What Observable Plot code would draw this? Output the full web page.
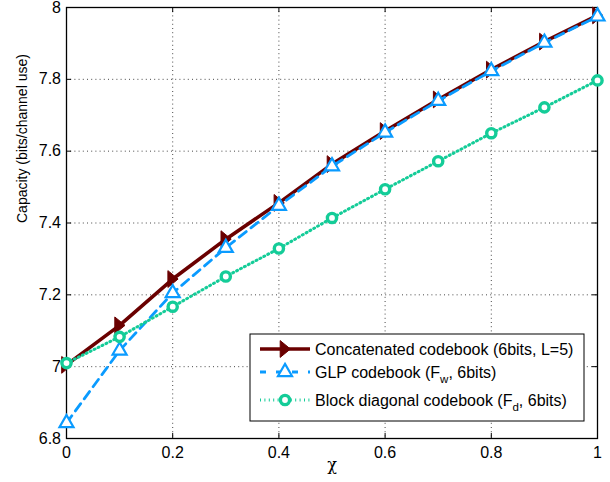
<!DOCTYPE html>
<html>
<head>
<meta charset="utf-8">
<script src="https://cdn.jsdelivr.net/npm/d3@7"></script>
<script src="https://cdn.jsdelivr.net/npm/@observablehq/plot@0.6"></script>
<style>
  html, body { margin: 0; padding: 0; background: #fff; }
  #chart svg { display: block; }
</style>
</head>
<body>
<div id="chart"></div>
<script>
// Channel capacity versus the correlation parameter chi for three codebooks
const chi = [0, 0.1, 0.2, 0.3, 0.4, 0.5, 0.6, 0.7, 0.8, 0.9, 1];
const concatenated = [7.005, 7.115, 7.244, 7.355, 7.456, 7.564, 7.656, 7.744, 7.827, 7.905, 7.978];
const glp = [6.843, 7.045, 7.205, 7.331, 7.448, 7.558, 7.652, 7.74, 7.823, 7.902, 7.975];
const blockDiagonal = [7.01, 7.083, 7.167, 7.251, 7.329, 7.414, 7.494, 7.572, 7.65, 7.722, 7.797];

const xTicks = [0, 0.2, 0.4, 0.6, 0.8, 1];
const yTicks = [6.8, 7, 7.2, 7.4, 7.6, 7.8, 8];

const seriesNames = [
  "Concatenated codebook (6bits, L=5)",
  "GLP codebook (F_w, 6bits)",
  "Block diagonal codebook (F_d, 6bits)"
];

const colors = { conc: "#6a0000", glp: "#0a9bff", block: "#14cc98" };

const rows = (ys) => chi.map((x, i) => ({ x, y: ys[i] }));
const concRows = rows(concatenated);
const glpRows = rows(glp);
const blockRows = rows(blockDiagonal);

// Right-pointing triangle marker
const triangleRight = {
  draw(context, size) {
    const r = Math.sqrt(size / Math.PI);
    context.moveTo(r * 0.9, 0);
    context.lineTo(-r * 0.8, -r * 1.4);
    context.lineTo(-r * 0.8, r * 1.4);
    context.closePath();
  }
};

const xDom = [0, 1], yDom = [6.8, 8];
const tickLenX = 0.014; // inward tick length in y units
const tickLenY = 0.0095; // inward tick length in x units
const font = "'Liberation Sans', Arial, sans-serif";

const plot = Plot.plot({
  width: 610,
  height: 482,
  marginLeft: 66,
  marginRight: 13,
  marginTop: 7,
  marginBottom: 44,
  style: { fontFamily: font, fontSize: "16px", background: "#fff", color: "#000" },
  x: { domain: xDom },
  y: { domain: yDom },
  marks: [
    // dotted grid
    Plot.ruleX(xTicks.filter(d => d > 0 && d < 1), { stroke: "#333", strokeWidth: 0.9, strokeDasharray: "1,3.2" }),
    Plot.ruleY(yTicks.filter(d => d > 6.8 && d < 8), { stroke: "#333", strokeWidth: 0.9, strokeDasharray: "1,3.2" }),
    // inward ticks on all four sides
    Plot.ruleX(xTicks, { y1: 6.8, y2: 6.8 + tickLenX, stroke: "#000" }),
    Plot.ruleX(xTicks, { y1: 8, y2: 8 - tickLenX, stroke: "#000" }),
    Plot.ruleY(yTicks, { x1: 0, x2: tickLenY, stroke: "#000" }),
    Plot.ruleY(yTicks, { x1: 1, x2: 1 - tickLenY, stroke: "#000" }),
    Plot.axisX(xTicks, { tickSize: 0, tickPadding: 8, tickFormat: d => String(d), label: null }),
    Plot.axisY(yTicks, { tickSize: 0, tickPadding: 5.5, tickFormat: d => String(d), label: null }),
    Plot.frame({ stroke: "#000", strokeWidth: 1.3 }),
    // axis titles
    Plot.text(["Capacity (bits/channel use)"], { frameAnchor: "left", dx: -44, rotate: -90, fontSize: 14 }),
    Plot.text(["χ"], { frameAnchor: "bottom", dy: 31, fontSize: 16, fontFamily: "'DejaVu Serif', serif" }),
    // series
    Plot.line(concRows, { x: "x", y: "y", stroke: colors.conc, strokeWidth: 3.6 }),
    Plot.dot(concRows, { x: "x", y: "y", symbol: triangleRight, r: 6, fill: colors.conc, stroke: colors.conc, strokeWidth: 1 }),
    Plot.line(glpRows, { x: "x", y: "y", stroke: colors.glp, strokeWidth: 2.8, strokeDasharray: "9,6" }),
    Plot.dot(glpRows, { x: "x", y: "y", symbol: "triangle", r: 5.2, fill: "#fff", stroke: colors.glp, strokeWidth: 2.2 }),
    Plot.line(blockRows, { x: "x", y: "y", stroke: colors.block, strokeWidth: 3, strokeDasharray: "1,3.4" }),
    Plot.dot(blockRows, { x: "x", y: "y", r: 4.6, fill: "#fff", stroke: colors.block, strokeWidth: 3.4 })
  ]
});

// Legend box in the lower right of the plot area
const svg = d3.select(plot);
const lg = svg.append("g")
  .attr("font-family", font).attr("font-size", 16)
  .attr("text-anchor", "start").attr("fill", "#000");
lg.append("rect").attr("x", 250).attr("y", 334).attr("width", 334).attr("height", 87)
  .attr("fill", "#fff").attr("stroke", "#000").attr("stroke-width", 1);

const entries = [
  { name: seriesNames[0], y: 349, line: { stroke: colors.conc, w: 3.6, dash: "none" }, marker: "right" },
  { name: seriesNames[1], y: 372, line: { stroke: colors.glp, w: 2.8, dash: "6,10" }, marker: "up" },
  { name: seriesNames[2], y: 400, line: { stroke: colors.block, w: 3, dash: "1,3.4" }, marker: "circle" }
];

entries.forEach(e => {
  lg.append("line").attr("x1", 260).attr("x2", 310).attr("y1", e.y).attr("y2", e.y)
    .attr("stroke", e.line.stroke).attr("stroke-width", e.line.w)
    .attr("stroke-dasharray", e.line.dash).attr("fill", "none");
  const cx = 285;
  if (e.marker === "right") {
    lg.append("path").attr("d", d3.symbol(triangleRight, Math.PI * 36)())
      .attr("transform", `translate(${cx},${e.y})`).attr("fill", colors.conc).attr("stroke", colors.conc);
  } else if (e.marker === "up") {
    lg.append("path").attr("d", d3.symbol(d3.symbolTriangle, Math.PI * 5.2 * 5.2)())
      .attr("transform", `translate(${cx},${e.y})`).attr("fill", "#fff").attr("stroke", colors.glp).attr("stroke-width", 2.2);
  } else {
    lg.append("circle").attr("cx", cx).attr("cy", e.y).attr("r", 4.6)
      .attr("fill", "#fff").attr("stroke", colors.block).attr("stroke-width", 3.4);
  }
  const t = lg.append("text").attr("x", 315).attr("y", e.y).attr("dy", "0.35em");
  const m = e.name.match(/^(.*\(F)_(\w)(,.*)$/);
  if (m) {
    t.append("tspan").text(m[1]);
    t.append("tspan").attr("dy", 5).attr("font-size", 11.5).text(m[2]);
    t.append("tspan").attr("dy", -5).text(m[3]);
  } else {
    t.text(e.name);
  }
});

document.getElementById("chart").appendChild(plot);
</script>
</body>
</html>
